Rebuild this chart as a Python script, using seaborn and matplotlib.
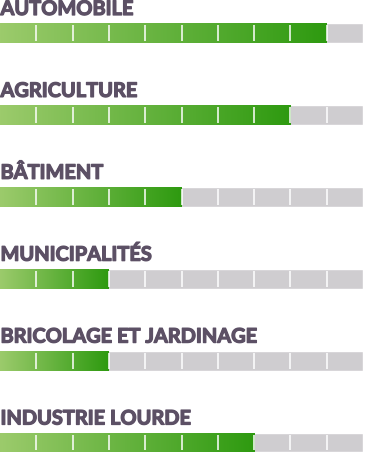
import numpy as np
import pandas as pd
import matplotlib
matplotlib.use("Agg")
import matplotlib.pyplot as plt
import matplotlib.patheffects as pe
import seaborn as sns
from matplotlib.colors import LinearSegmentedColormap

categories = ["AUTOMOBILE", "AGRICULTURE", "BÂTIMENT", "MUNICIPALITÉS",
              "BRICOLAGE ET JARDINAGE", "INDUSTRIE LOURDE"]
values = [9, 8, 5, 3, 3, 7]
max_value = 10

sns.set_theme(style="white")
plt.rcParams['font.family'] = ['Lato', 'DejaVu Sans']

df = pd.DataFrame({"category": categories, "value": values,
                   "max": [max_value] * len(categories)})

fig = plt.figure(figsize=(3.66, 4.58), dpi=100)
ax = fig.add_axes([0.0, 0.0, 363 / 366, 1.0])

bar_h = 20 / 81.9
sns.barplot(data=df, y="category", x="max", orient="h", color="#cfcdd0",
            width=bar_h, ax=ax, saturation=1)
n_bg = len(ax.patches)
sns.barplot(data=df, y="category", x="value", orient="h", color="#5aaa30",
            width=bar_h, ax=ax, saturation=1)

cmap = LinearSegmentedColormap.from_list("g", ["#9ccb6c", "#2e9a10"])
grad = np.linspace(0, 1, 256).reshape(1, -1)
for p in ax.patches[n_bg:]:
    x0, y0 = p.get_x(), p.get_y()
    w, h = p.get_width(), p.get_height()
    im = ax.imshow(grad, cmap=cmap, aspect="auto",
                   extent=[x0, x0 + w, y0 + h, y0], zorder=p.get_zorder() + 0.1)
    im.set_clip_path(p)
    p.set_edgecolor("none")

text_color = "#5c5065"
for i in range(len(categories)):
    ax.vlines(np.arange(1, max_value), i - 8 / 81.9, i + 8 / 81.9,
              colors="white", linewidth=1.1, zorder=5)
    ax.text(0.05 / 36 * 10, i - 18 / 81.9, categories[i], ha="left", va="baseline",
            fontsize=14.4, fontweight="bold", color=text_color, zorder=6,
            path_effects=[pe.withStroke(linewidth=0.9, foreground=text_color)])

ax.set_xlim(0, max_value)
ax.set_ylim(5 + 15.5 / 81.9, -33 / 81.9)
ax.axis("off")

fig.savefig("out.png", dpi=100)
